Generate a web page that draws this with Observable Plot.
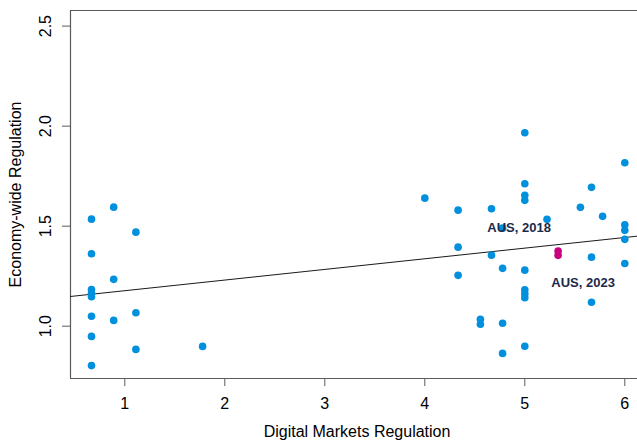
<!DOCTYPE html>
<html>
<head>
<meta charset="utf-8">
<script src="https://cdn.jsdelivr.net/npm/d3@7"></script>
<script src="https://cdn.jsdelivr.net/npm/@observablehq/plot@0.6"></script>
<style>
  html, body { margin: 0; padding: 0; background: #fff; overflow: hidden; }
  svg { display: block; }
</style>
</head>
<body>
<div id="chart"></div>
<script>
// Digital Markets Regulation (x) vs Economy-wide Regulation (y)
const countryX = [0.667,0.667,0.667,0.667,0.667,0.667,0.667,0.667,
  0.889,0.889,0.889, 1.111,1.111,1.111, 1.778,
  4.0, 4.333,4.333,4.333, 4.556,4.556, 4.667,4.667,
  4.778,4.778,4.778,4.778,
  5.0,5.0,5.0,5.0,5.0,5.0,5.0,5.0,5.0,
  5.222, 5.556, 5.667,5.667,5.667, 5.778,
  6.0,6.0,6.0,6.0,6.0];
const countryY = [1.535,1.362,1.183,1.165,1.147,1.050,0.949,0.803,
  1.595,1.234,1.029, 1.470,1.067,0.884, 0.899,
  1.640, 1.580,1.395,1.254, 1.035,1.010, 1.587,1.355,
  1.490,1.289,1.015,0.864,
  1.967,1.712,1.654,1.629,1.280,1.182,1.162,1.142,0.900,
  1.534, 1.594, 1.694,1.345,1.120, 1.549,
  1.817,1.507,1.479,1.434,1.313];
const ausLabels = ["AUS, 2018", "AUS, 2023"];
const ausX = [5.333, 5.333];
const ausY = [1.376, 1.354];
const fitIntercept = 1.1242;
const fitSlope = 0.0532;
const xTicks = [1, 2, 3, 4, 5, 6];
const yTicks = [1.0, 1.5, 2.0, 2.5];
const xDomain = [0.457, 6.127];
const yDomain = [0.7385, 2.578];

const countries = countryX.map((x, i) => ({x, y: countryY[i]}));
const aus = ausX.map((x, i) => ({x, y: ausY[i], label: ausLabels[i]}));
const fit = xDomain.map(x => ({x, y: fitIntercept + fitSlope * x}));

const axisColor = "#5a5a5a";

const chart = Plot.plot({
  width: 637,
  height: 441,
  marginLeft: 70,
  marginRight: 0,
  marginTop: 10,
  marginBottom: 63,
  style: {fontFamily: "'Liberation Sans', Arial, sans-serif", fontSize: "16px", background: "#fff"},
  x: {domain: xDomain},
  y: {domain: yDomain},
  marks: [
    Plot.ruleX([xDomain[0]], {stroke: axisColor, strokeWidth: 1.2}),
    Plot.ruleY(yDomain, {stroke: axisColor, strokeWidth: 1.2}),
    Plot.axisX({ticks: xTicks, tickSize: 8, tickPadding: 11, stroke: axisColor, fill: "#000", fontSize: 16, label: null, tickFormat: d => String(d)}),
    Plot.axisY({ticks: yTicks, tickSize: 8, stroke: axisColor, label: null, tickFormat: () => ""}),
    Plot.text(yTicks, {y: d => d, frameAnchor: "left", dx: -25, rotate: -90, text: d => d.toFixed(1), fontSize: 16, fill: "#000", textAnchor: "middle", lineAnchor: "middle"}),
    Plot.text(["Economy-wide Regulation"], {frameAnchor: "left", dx: -55, rotate: -90, fontSize: 16, fill: "#000", textAnchor: "middle", lineAnchor: "middle"}),
    Plot.text(["Digital Markets Regulation"], {frameAnchor: "bottom", dx: 3, dy: 53, fontSize: 16, fill: "#000", textAnchor: "middle", lineAnchor: "middle"}),
    Plot.line(fit, {x: "x", y: "y", stroke: "#1a1a1a", strokeWidth: 1}),
    Plot.dot(countries, {x: "x", y: "y", r: 3.8, fill: "#0090dd", stroke: "none"}),
    Plot.dot(aus, {x: "x", y: "y", r: 3.8, fill: "#c8007d", stroke: "none"}),
    Plot.text(aus.filter(d => d.label === "AUS, 2018"), {x: "x", y: "y", text: "label", dx: -39, dy: -23, fontSize: 13, fontWeight: "bold", fill: "#1b2a4a", textAnchor: "middle"}),
    Plot.text(aus.filter(d => d.label === "AUS, 2023"), {x: "x", y: "y", text: "label", dx: 25, dy: 27.5, fontSize: 13, fontWeight: "bold", fill: "#1b2a4a", textAnchor: "middle"})
  ]
});
document.getElementById("chart").append(chart);
</script>
</body>
</html>
